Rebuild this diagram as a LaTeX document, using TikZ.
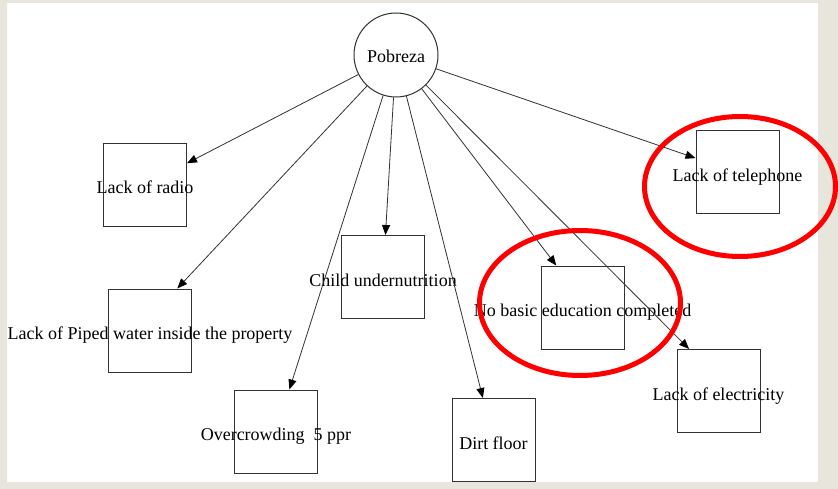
\documentclass[tikz,border=0pt]{standalone}
\usepackage{fontspec}
\setmainfont{Liberation Serif}
\usetikzlibrary{arrows.meta}

\definecolor{pagegrey}{RGB}{232,229,221}
\definecolor{inkline}{RGB}{50,50,50}

\tikzset{
  causebox/.style={draw=inkline, line width=1pt, minimum width=83pt, minimum height=83pt,
    inner sep=0pt, text height=18pt, text depth=0pt, font=\fontsize{18}{18}\selectfont},
  rootnode/.style={draw=inkline, line width=1pt, circle, minimum size=84pt, inner sep=0pt,
    text height=16pt, text depth=0pt, font=\fontsize{18}{18}\selectfont},
  link/.style={draw=inkline, line width=0.8pt,
    -{Triangle[length=10pt,width=8pt,color=black]}},
  highlight/.style={draw=red, line width=5pt}
}

\begin{document}
\begin{tikzpicture}[x=1pt, y=-1pt]
  \useasboundingbox (0,0) rectangle (838,489);
  \fill[white] (0,0) rectangle (838,489);

  % root and the eight indicator boxes
  \node[rootnode] (p) at (396,55) {Pobreza};
  \node[causebox] (radio) at (145,185)   {\makebox[0pt]{Lack of radio}};
  \node[causebox] (pipe)  at (150,330.5) {\makebox[0pt]{Lack of Piped water inside the property}};
  \node[causebox] (crowd) at (276,431.5) {\makebox[0pt]{Overcrowding\ \ 5 ppr}};
  \node[causebox] (child) at (383,277)   {\makebox[0pt]{Child undernutrition}};
  \node[causebox] (dirt)  at (493.5,440) {\makebox[0pt]{Dirt floor}};
  \node[causebox] (edu)   at (582.5,307.5) {\makebox[0pt]{No basic education completed}};
  \node[causebox] (elec)  at (718.5,391) {\makebox[0pt]{Lack of electricity}};
  \node[causebox] (tel)   at (737.5,172.5) {\makebox[0pt]{Lack of telephone}};

  % connectors
  \draw[link] (p) -- (radio);
  \draw[link] (p) -- (pipe.57);
  \draw[link] (p) -- (crowd);
  \draw[link] (p) -- (child);
  \draw[link] (p) -- (dirt);
  \draw[link] (p) -- (edu.122);
  \draw[link] (p) -- (elec.125);
  \draw[link] (p) -- (tel);

  % page frame
  \fill[pagegrey, even odd rule] (0,0) rectangle (838,489) (7,3) rectangle (818,482);

  % red highlight rings
  \draw[highlight] (740,186.5) ellipse [x radius=95.5, y radius=70];
  \draw[highlight] (580,303) ellipse [x radius=100.5, y radius=72.5];
\end{tikzpicture}
\end{document}
